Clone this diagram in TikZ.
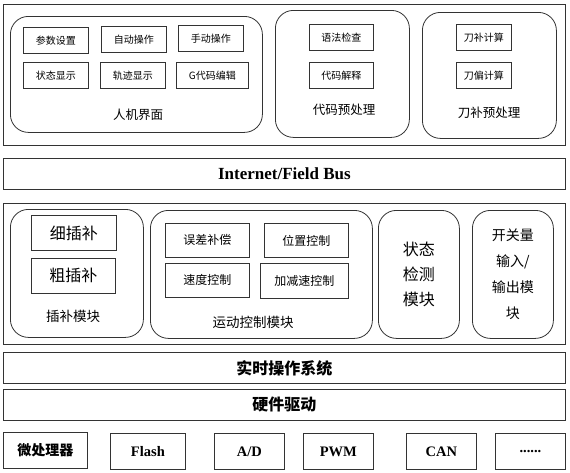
\documentclass[tikz,border=0pt]{standalone}
\usepackage{fontspec}
\setmainfont{Liberation Serif}
\newfontfamily\cjk{Noto Sans CJK SC}

\begin{document}
\begin{tikzpicture}[x=1pt, y=-1pt,
    box/.style={draw=black!80, line width=0.8pt, anchor=north west, inner sep=0pt, align=center},
    sbox/.style={box, minimum height=26pt, font=\cjk\fontsize{10}{11}\selectfont},
    mbox/.style={box, font=\cjk\fontsize{12}{14}\selectfont},
    rbox/.style={box, rounded corners=18pt},
    bar/.style={box, minimum width=562pt, minimum height=31pt},
    lbl/.style={font=\cjk\fontsize{12.5}{14}\selectfont},
    mlbl/.style={font=\cjk\fontsize{13.5}{15}\selectfont},
    hw/.style={box, minimum height=36pt, font=\bfseries\fontsize{14.5}{16}\selectfont}]
    \useasboundingbox (0,0) rectangle (570,472);

    % Draw the top layer
    \node[box, minimum width=562pt, minimum height=141pt] (top) at (3,4) {};
    \node[rbox, minimum width=252pt, minimum height=116pt] (hmi) at (10,16) {};
    \node[rbox, minimum width=134pt, minimum height=127pt] (dmy) at (275,10) {};
    \node[rbox, minimum width=134pt, minimum height=126pt] (dby) at (422,12) {};

    % Small boxes of the top layer
    \node[sbox, minimum width=65pt] (cssz) at (23,27) {参数设置};
    \node[sbox, minimum width=65pt] (zdcz) at (101,26) {自动操作};
    \node[sbox, minimum width=65pt] (sdcz) at (178,25) {手动操作};
    \node[sbox, minimum width=65pt] (ztxs) at (23,62) {状态显示};
    \node[sbox, minimum width=65pt] (gjxs) at (100,62) {轨迹显示};
    \node[sbox, minimum width=72pt] (gdbj) at (176,62) {G代码编辑};
    \node[sbox, minimum width=64pt] (yfjc) at (309,24) {语法检查};
    \node[sbox, minimum width=64pt] (dmjs) at (309,62) {代码解释};
    \node[sbox, minimum width=55pt] (dbjs) at (456,24) {刀补计算};
    \node[sbox, minimum width=55pt] (dpjs) at (456,62) {刀偏计算};

    % Labels of the rounded boxes
    \node[lbl] (hmil) at (138,115) {人机界面};
    \node[lbl] (dmyl) at (344,110) {代码预处理};
    \node[lbl] (dbyl) at (489,113) {刀补预处理};

    % Draw the bus
    \node[bar, font=\bfseries\fontsize{17}{19}\selectfont] (bus) at (3,158) {Internet/Field Bus};

    % Draw the middle layer
    \node[box, minimum width=562pt, minimum height=141pt] (mid) at (3,203) {};
    \node[rbox, minimum width=133pt, minimum height=128pt] (cbm) at (10,209) {};
    \node[mbox, minimum width=85pt, minimum height=35pt, font=\cjk\fontsize{16}{18}\selectfont] (xcb) at (31,215) {细插补};
    \node[mbox, minimum width=84pt, minimum height=35pt, font=\cjk\fontsize{16}{18}\selectfont] (ccb) at (31,258) {粗插补};
    \node[mlbl] (cbml) at (73,316) {插补模块};

    \node[rbox, minimum width=222pt, minimum height=128pt] (ydk) at (150,210) {};
    \node[mbox, minimum width=84pt, minimum height=34pt] (wcbc) at (165,223) {误差补偿};
    \node[mbox, minimum width=84pt, minimum height=34pt] (sdkz) at (165,263) {速度控制};
    \node[mbox, minimum width=84pt, minimum height=34pt] (wzkz) at (264,223) {位置控制};
    \node[mbox, minimum width=88pt, minimum height=35pt] (jjkz) at (260,263) {加减速控制};
    \node[mlbl] (ydkl) at (253,322) {运动控制模块};

    \node[rbox, minimum width=81pt, minimum height=128pt, font=\cjk\fontsize{16}{25}\selectfont] (ztjc) at (378,210) {状态\\检测\\模块};
    \node[rbox, minimum width=81pt, minimum height=128pt, font=\cjk\fontsize{14}{26}\selectfont] (kgl) at (472,210) {开关量\\输入/\\输出模\\块};

    % Draw the lower layers
    \node[bar, font=\cjk\bfseries\fontsize{16}{18}\selectfont] (rtos) at (3,352) {实时操作系统};
    \node[bar, font=\cjk\bfseries\fontsize{16}{18}\selectfont] (yjqd) at (3,389) {硬件驱动};

    % Draw the hardware boxes
    \node[hw, minimum width=84pt, font=\cjk\bfseries\fontsize{14}{16}\selectfont] (wcl) at (3,432) {微处理器};
    \node[hw, minimum width=75pt] (flash) at (110,433) {Flash};
    \node[hw, minimum width=70pt] (ad) at (214,433) {A/D};
    \node[hw, minimum width=70pt] (pwm) at (303,433) {PWM};
    \node[hw, minimum width=70pt] (can) at (406,433) {CAN};
    \node[hw, minimum width=70pt] (more) at (495,433) {......};
\end{tikzpicture}
\end{document}
